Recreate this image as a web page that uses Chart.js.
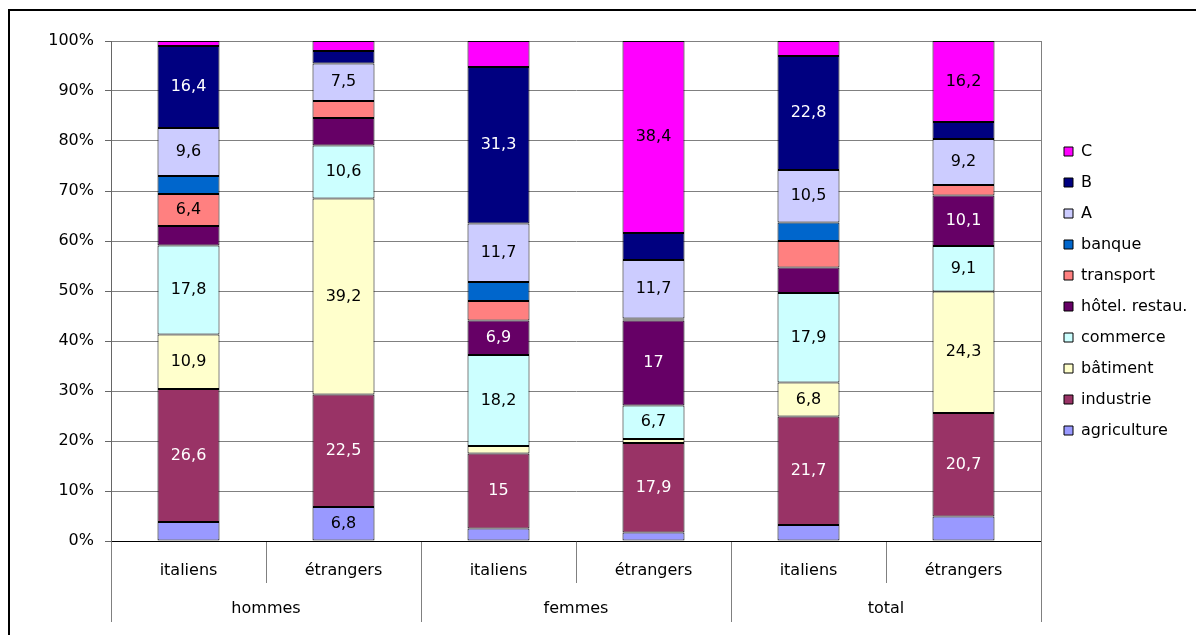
<!DOCTYPE html>
<html>
<head>
<meta charset="utf-8">
<script src="https://cdn.jsdelivr.net/npm/chart.js@4"></script>
<style>
    html, body { margin: 0; padding: 0; background: #fff; }
    #wrap { position: absolute; left: 0; top: 0; width: 1196px; height: 635px; }
</style>
</head>
<body>
<div id="wrap"><canvas id="secteurs"></canvas></div>
<script>
const categories = ['italiens', 'étrangers', 'italiens', 'étrangers', 'italiens', 'étrangers'];
const groups = ['hommes', 'femmes', 'total'];
const yTicks = [0, 10, 20, 30, 40, 50, 60, 70, 80, 90, 100];

const agriculture = [3.8, 6.8, 2.5, 1.7, 3.2, 4.9];
const industrie = [26.6, 22.5, 15, 17.9, 21.7, 20.7];
const batiment = [10.9, 39.2, 1.5, 0.8, 6.8, 24.3];
const commerce = [17.8, 10.6, 18.2, 6.7, 17.9, 9.1];
const hotel = [3.9, 5.5, 6.9, 17, 5.1, 10.1];
const transport = [6.4, 3.4, 3.9, 0.2, 5.3, 2.1];
const banque = [3.6, 0, 3.8, 0.2, 3.7, 0];
const secteurA = [9.6, 7.5, 11.7, 11.7, 10.5, 9.2];
const secteurB = [16.4, 2.5, 31.3, 5.4, 22.8, 3.4];
const secteurC = [1.0, 2.0, 5.2, 38.4, 3.0, 16.2];

const FONT = '"DejaVu Sans", "Liberation Sans", Arial, sans-serif';
Chart.defaults.font.family = FONT;
Chart.defaults.font.size = 16;
Chart.defaults.color = '#000';

function ds(label, data, color, textColor) {
    return {
        label: label,
        data: data,
        backgroundColor: color,
        borderColor: '#000',
        borderWidth: 1,
        borderSkipped: false,
        textColor: textColor
    };
}

// cadre du graphique
const framePlugin = {
    id: 'frame',
    beforeDraw(chart) {
        const ctx = chart.ctx;
        ctx.save();
        ctx.fillStyle = '#fff';
        ctx.fillRect(0, 0, chart.width, chart.height);
        ctx.strokeStyle = '#000';
        ctx.lineWidth = 2;
        ctx.beginPath();
        ctx.moveTo(9, chart.height);
        ctx.lineTo(9, 10);
        ctx.lineTo(chart.width, 10);
        ctx.stroke();
        ctx.restore();
    }
};

// valeurs dans les barres
const valuePlugin = {
    id: 'values',
    afterDatasetsDraw(chart) {
        const ctx = chart.ctx;
        ctx.save();
        ctx.font = '16px ' + FONT;
        ctx.textAlign = 'center';
        ctx.textBaseline = 'middle';
        chart.data.datasets.forEach((d, i) => {
            const meta = chart.getDatasetMeta(i);
            meta.data.forEach((bar, j) => {
                const v = d.data[j];
                if (v > 6) {
                    ctx.fillStyle = d.textColor;
                    ctx.fillText(String(v).replace('.', ','), bar.x, (bar.y + bar.base) / 2);
                }
            });
        });
        ctx.restore();
    }
};

new Chart(document.getElementById('secteurs').getContext('2d'), {
    type: 'bar',
    data: {
        labels: categories,
        datasets: [
            ds('agriculture', agriculture, '#9999FF', '#000'),
            ds('industrie', industrie, '#993366', '#fff'),
            ds('bâtiment', batiment, '#FFFFCC', '#000'),
            ds('commerce', commerce, '#CCFFFF', '#000'),
            ds('hôtel. restau.', hotel, '#660066', '#fff'),
            ds('transport', transport, '#FF8080', '#000'),
            ds('banque', banque, '#0066CC', '#fff'),
            ds('A', secteurA, '#CCCCFF', '#000'),
            ds('B', secteurB, '#000080', '#fff'),
            ds('C', secteurC, '#FF00FF', '#000')
        ]
    },
    options: {
        responsive: true,
        maintainAspectRatio: false,
        animation: false,
        categoryPercentage: 1,
        barPercentage: 0.4,
        layout: { padding: { top: 41, left: 0, right: 0, bottom: 0 } },
        plugins: {
            legend: {
                position: 'right',
                reverse: true,
                fullSize: false,
                maxWidth: 147,
                labels: {
                    boxWidth: 9,
                    boxHeight: 9,
                    padding: 15,
                    font: { size: 16 }
                }
            },
            tooltip: { enabled: false }
        },
        scales: {
            x: {
                stacked: true,
                offset: true,
                grid: { offset: true, drawOnChartArea: false, tickLength: 42, color: '#808080' },
                border: { color: '#000' },
                ticks: { padding: -22, maxRotation: 0, autoSkip: false },
                afterFit: s => { s.height = 42; }
            },
            x2: {
                type: 'category',
                labels: groups,
                position: 'bottom',
                offset: true,
                grid: { offset: true, drawOnChartArea: false, tickLength: 39, color: '#808080' },
                border: { display: false },
                ticks: { padding: -23, maxRotation: 0, autoSkip: false },
                afterFit: s => { s.height = 52; }
            },
            y: {
                stacked: true,
                min: 0,
                max: 100,
                afterBuildTicks: s => { s.ticks = yTicks.map(v => ({ value: v })); },
                grid: { color: '#808080', tickLength: 6, tickColor: '#666' },
                border: { color: '#666' },
                ticks: { padding: 11, callback: v => v + '%' },
                afterFit: s => { s.width = 111; }
            },
            yRight: {
                position: 'right',
                grid: { display: false },
                ticks: { display: false },
                border: { color: '#808080' },
                afterFit: s => { s.width = 8; }
            }
        }
    },
    plugins: [framePlugin, valuePlugin]
});
</script>
</body>
</html>
